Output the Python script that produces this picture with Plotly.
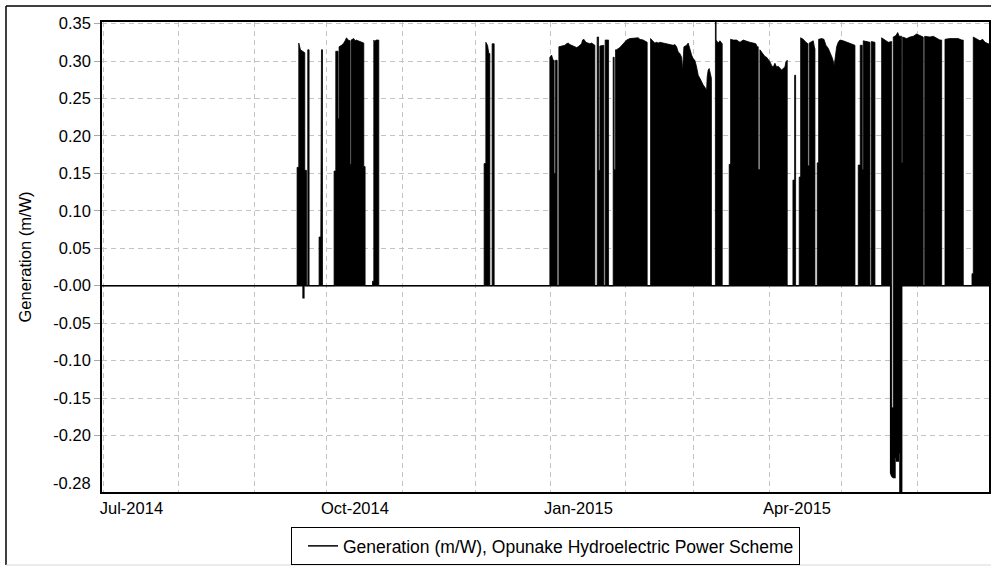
import pandas as pd
import plotly.graph_objects as go

# ---------------- data (days since 2014-07-01, generation in m/W) ----------------
# upper envelope of the half-hourly generation trace
day_hi = [
    -1, 79.72, 79.72, 80.42, 80.42, 81.12, 82.89, 82.89, 83.59, 83.59,
    84.12, 84.12, 84.66, 84.66,
    88.78, 88.78, 89.48, 89.48, 89.76, 89.76, 90.18, 90.18,
    94.95, 94.95, 95.65, 95.65, 96.60, 96.60, 97.01, 97.01, 98.00, 98.41, 98.95, 99.48, 100.06, 100.72,
    101.42, 101.54, 101.54, 101.95, 101.95, 102.53, 103.06, 103.60, 104.18, 104.84, 105.53, 106.23,
    106.89, 107.18, 107.18, 107.72, 107.72,
    110.76, 110.76, 111.30, 111.30, 111.71, 112.20, 113.36, 113.36,
    156.72, 156.72, 157.42, 157.42, 158.12, 158.65, 159.07, 159.07,
    160.01, 160.01, 160.84, 160.84,
    183.77, 183.77, 184.47, 185.13, 185.54, 185.54, 186.12, 186.12, 186.78, 186.78,
    187.48, 187.48, 188.59, 189.95, 190.64, 191.31, 192.01, 192.70, 193.36, 194.06, 194.76, 195.42,
    196.12, 196.82, 197.23, 197.77, 198.59, 199.54, 200.24, 200.94, 201.60, 202.30, 202.30,
    203.25, 203.25, 203.82, 203.82, 204.36, 204.36, 206.00, 206.00,
    206.54, 206.54, 207.94, 207.94,
    209.84, 209.84, 210.25, 210.25, 210.82, 210.82, 211.23, 212.59, 213.95, 214.65, 215.35, 216.71,
    218.07, 219.47, 220.13, 220.83, 222.19, 223.83, 223.83,
    225.23, 225.23, 226.06, 227.01, 227.70, 228.36, 229.06, 230.42, 231.82, 233.18, 234.54, 235.24,
    235.94, 236.60, 237.30, 238.00, 238.41, 238.95, 240.06, 240.72, 241.42, 242.12, 242.78, 243.48,
    244.18, 244.84, 245.53, 246.23, 246.89, 247.59, 248.29, 248.54, 248.95, 249.36, 249.94, 250.27, 250.27,
    251.92, 251.92, 252.20, 252.20, 253.07, 253.77, 254.47, 254.72, 254.72,
    257.60, 257.60, 258.17, 258.17, 259.25, 260.65, 262.01, 263.36, 264.76, 266.12, 267.48, 268.59,
    269.13, 269.54, 269.54, 270.24, 270.24, 270.94, 271.60, 272.30, 273.00, 273.66, 274.36, 275.06,
    275.72, 276.42, 277.11, 277.77, 278.48, 279.17, 279.83, 280.53, 280.94, 281.48, 281.48,
    283.83, 283.83, 284.53, 284.53, 284.94, 284.94,
    286.42, 286.42, 287.00, 287.00, 288.07, 289.18, 290.01, 290.01, 290.54, 290.54, 291.53, 292.19,
    292.76, 292.89, 292.89,
    293.83, 293.83, 294.41, 294.41, 295.64, 296.60, 297.42, 298.36, 299.35, 300.17, 300.83, 301.12,
    301.82, 302.48, 303.18, 304.54, 305.94, 307.18, 308.41, 309.36, 309.36,
    310.72, 310.72, 311.54, 311.54, 312.37, 312.37, 312.78, 312.78, 315.53, 315.53,
    316.07, 316.07, 317.59, 317.59,
    320.35, 320.35, 321.71, 323.07, 324.47, 324.47, 325.13, 325.13, 326.24, 326.94, 327.60, 328.59,
    328.59, 329.00, 329.00, 330.65, 332.01, 333.36, 334.76, 336.12, 337.48, 337.48,
    338.06, 338.06, 340.24, 341.60, 343.00, 344.36, 345.06, 345.06,
    346.42, 346.42, 348.47, 349.83, 351.89, 353.29, 353.95, 353.95,
    357.53, 357.53, 358.07, 358.07, 359.47, 360.83, 361.94, 362.89, 364.24, 365.50,
]
gen_max = [
    0, 0, 0.158, 0.158, 0.324, 0.315, 0.311, 0.154, 0.154, 0,
    0, 0.315, 0.315, 0,
    0, 0.065, 0.065, 0.150, 0.150, 0.315, 0.315, 0,
    0, 0.153, 0.153, 0.313, 0.313, 0.223, 0.223, 0.319, 0.321, 0.322, 0.324, 0.327, 0.331, 0.328,
    0.327, 0.327, 0.162, 0.162, 0.328, 0.329, 0.330, 0.327, 0.328, 0.327, 0.326, 0.325,
    0.324, 0.324, 0.159, 0.159, 0,
    0, 0.006, 0.006, 0.328, 0.326, 0.328, 0.328, 0,
    0, 0.163, 0.163, 0.325, 0.321, 0.310, 0.310, 0,
    0, 0.323, 0.323, 0,
    0, 0.305, 0.308, 0.301, 0.301, 0.150, 0.150, 0.301, 0.301, 0,
    0, 0.319, 0.320, 0.321, 0.323, 0.324, 0.322, 0.321, 0.320, 0.319, 0.318, 0.319,
    0.321, 0.323, 0.328, 0.329, 0.325, 0.324, 0.323, 0.324, 0.322, 0.321, 0,
    0, 0.332, 0.332, 0.154, 0.154, 0.320, 0.321, 0,
    0, 0.328, 0.328, 0,
    0, 0.305, 0.305, 0.155, 0.155, 0.315, 0.315, 0.318, 0.323, 0.325, 0.328, 0.330,
    0.330, 0.330, 0.331, 0.329, 0.328, 0.325, 0,
    0, 0.330, 0.327, 0.324, 0.325, 0.324, 0.325, 0.324, 0.323, 0.323, 0.321, 0.322,
    0.319, 0.312, 0.310, 0.305, 0.288, 0.319, 0.321, 0.324, 0.314, 0.308, 0.303, 0.301,
    0.292, 0.281, 0.277, 0.272, 0.268, 0.265, 0.261, 0.279, 0.288, 0.290, 0.281, 0.277, 0,
    0, 0.352, 0.352, 0.328, 0.324, 0.327, 0.323, 0.323, 0,
    0, 0.162, 0.162, 0.329, 0.328, 0.328, 0.325, 0.328, 0.327, 0.325, 0.324, 0.323,
    0.319, 0.319, 0.155, 0.155, 0.315, 0.312, 0.310, 0.306, 0.305, 0.302, 0.299, 0.294,
    0.292, 0.297, 0.292, 0.293, 0.290, 0.288, 0.290, 0.292, 0.299, 0.301, 0,
    0, 0.141, 0.141, 0.281, 0.281, 0,
    0, 0.145, 0.145, 0.331, 0.329, 0.325, 0.323, 0.160, 0.160, 0.324, 0.326, 0.327,
    0.317, 0.317, 0,
    0, 0.164, 0.164, 0.329, 0.330, 0.329, 0.321, 0.317, 0.310, 0.303, 0.294, 0.301,
    0.319, 0.325, 0.328, 0.327, 0.325, 0.324, 0.322, 0.321, 0,
    0, 0.161, 0.161, 0.321, 0.321, 0.155, 0.155, 0.327, 0.325, 0,
    0, 0.326, 0.325, 0,
    0, 0.331, 0.328, 0.325, 0.326, -0.163, -0.163, 0.332, 0.334, 0.338, 0.333, 0.333,
    0.164, 0.164, 0.332, 0.330, 0.332, 0.333, 0.336, 0.334, 0.332, 0,
    0, 0.333, 0.332, 0.333, 0.330, 0.328, 0.328, 0,
    0, 0.329, 0.330, 0.330, 0.330, 0.328, 0.328, 0,
    0, 0.016, 0.016, 0.332, 0.330, 0.327, 0.329, 0.325, 0.323, 0.323,
]
# lower envelope (negative excursions)
day_lo = [-1, 82.2, 82.2, 82.5, 82.5, 324.06, 324.06, 324.47, 325.13, 325.83, 325.83, 326.53,
          326.53, 327.19, 327.19, 327.89, 327.89, 328.59, 328.59, 365.5]
gen_min = [0, 0, -0.016, -0.016, 0, 0, -0.250, -0.254, -0.256, -0.256, -0.229, -0.229,
           -0.234, -0.234, -0.223, -0.223, -0.290, -0.290, 0, 0]

series_name = "Generation (m/W), Opunake Hydroelectric Power Scheme"
y_title = "Generation (m/W)"
y_ticks = [0.35, 0.30, 0.25, 0.20, 0.15, 0.10, 0.05, 0.0, -0.05, -0.10, -0.15, -0.20]
y_ticktext = ["0.35", "0.30", "0.25", "0.20", "0.15", "0.10", "0.05", "-0.00",
              "-0.05", "-0.10", "-0.15", "-0.20"]
y_min_tick = -0.263
y_min_text = "-0.28"
month_ticks = ["2014-07-01", "2014-08-01", "2014-09-01", "2014-10-01", "2014-11-01", "2014-12-01",
               "2015-01-01", "2015-02-01", "2015-03-01", "2015-04-01", "2015-05-01", "2015-06-01"]
month_text = ["Jul-2014", "", "", "Oct-2014", "", "", "Jan-2015", "", "", "Apr-2015", "", ""]

# ---------------- figure ----------------
start = pd.Timestamp("2014-07-01")
x_hi = start + pd.to_timedelta(day_hi, unit="D")
x_lo = start + pd.to_timedelta(day_lo, unit="D")

W, H = 991, 566
ML, MR, MT, MB = 102, 2, 22, 74
FONT = "Liberation Sans, Arial, sans-serif"
FS = 16.5
GRID = "#c4c4c4"
YR = [-0.2755, 0.3521]

fig = go.Figure()
fig.add_trace(go.Scatter(x=x_lo, y=gen_min, mode="lines", name=series_name,
                         line=dict(color="black", width=1.5), showlegend=True))
fig.add_trace(go.Scatter(x=x_hi, y=gen_max, mode="lines", name=series_name,
                         line=dict(color="black", width=0.8), fill="tonexty",
                         fillcolor="black", showlegend=False))

pw, ph = W - ML - MR, H - MT - MB
def px_x(p):
    return (p - ML) / pw
def px_y(p):
    return (H - MB - p) / ph

fig.update_layout(
    width=W, height=H,
    margin=dict(l=ML, r=MR, t=MT, b=MB, autoexpand=False),
    paper_bgcolor="white", plot_bgcolor="white",
    font=dict(family=FONT, size=FS, color="black"),
    showlegend=True,
    legend=dict(orientation="h", x=0.5, xanchor="center", y=px_y(527), yanchor="top",
                bordercolor="black", borderwidth=1, bgcolor="white", indentation=11,
                font=dict(family=FONT, size=17.5, color="black")),
    xaxis=dict(type="date", range=["2014-06-30 10:00", "2015-06-30 13:00"],
               tickmode="array", tickvals=month_ticks, ticktext=month_text,
               ticks="", ticklabelshift=28, ticklabelstandoff=0,
               showgrid=True, gridcolor=GRID, griddash="5px,4px", gridwidth=1,
               showline=True, linecolor="black", linewidth=1.5, mirror=True,
               zeroline=False, tickfont=dict(family=FONT, size=FS, color="black")),
    yaxis=dict(range=YR, tickmode="array", tickvals=y_ticks, ticktext=y_ticktext,
               ticks="outside", ticklen=6, tickcolor="#a8a8a8",
               showgrid=True, gridcolor=GRID, griddash="5px,4px", gridwidth=1,
               showline=True, linecolor="black", linewidth=1.5, mirror=True,
               zeroline=False, tickfont=dict(family=FONT, size=FS, color="black"),
               title=dict(text=y_title, standoff=18, font=dict(family=FONT, size=FS, color="black"))),
    annotations=[dict(text=y_min_text, xref="paper", x=0, xanchor="right", xshift=-9,
                      yref="y", y=y_min_tick, yanchor="middle", showarrow=False,
                      font=dict(family=FONT, size=FS, color="black"))],
    shapes=[
        dict(type="line", xref="paper", yref="paper", x0=px_x(6), x1=px_x(W + 2), y0=px_y(6), y1=px_y(6),
             line=dict(color="black", width=1.5)),
        dict(type="line", xref="paper", yref="paper", x0=px_x(6), x1=px_x(6), y0=px_y(6), y1=px_y(565),
             line=dict(color="black", width=1.5)),
        dict(type="line", xref="paper", yref="paper", x0=px_x(6), x1=px_x(W + 2), y0=px_y(565), y1=px_y(565),
             line=dict(color="#d8d8d8", width=1)),
    ],
)

fig.write_html("out.html", config={"displayModeBar": False},
               post_script="document.body.style.margin='0px';")
